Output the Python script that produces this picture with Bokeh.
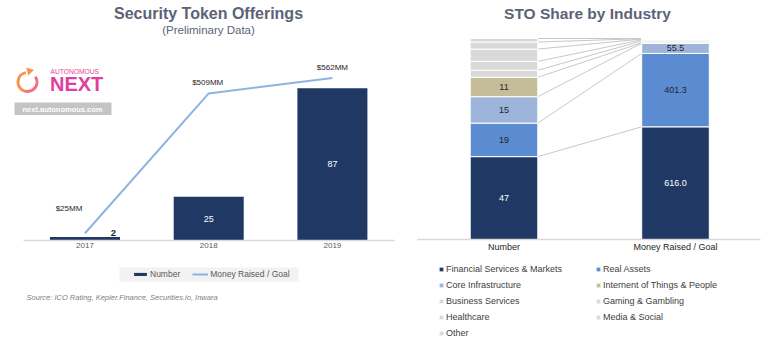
import numpy as np
from bokeh.plotting import figure
from bokeh.models import (Range1d, FixedTicker, ColumnDataSource, Label, LabelSet,
                          Legend, LegendItem, BoxAnnotation)
from bokeh.layouts import row
from bokeh.embed import file_html
from bokeh.resources import INLINE
from bokeh.core.properties import value

# ---------------- data: left chart ----------------
years = ["2017", "2018", "2019"]
sto_count = [2, 25, 87]
money_raised = [25, 509, 562]
money_labels = ["$25MM", "$509MM", "$562MM"]

# ---------------- data: right chart ----------------
share_cats = ["Number", "Money Raised / Goal"]
industries = ["Financial Services & Markets", "Real Assets", "Core Infrastructure",
              "Internent of Things & People", "Business Services", "Gaming & Gambling",
              "Healthcare", "Media & Social", "Other"]
number_by_ind = [47, 19, 15, 11, 4, 5, 7, 4, 2]
money_by_ind = [616.0, 401.3, 55.5, 3.0, 10.0, 6.0, 4.0, 2.0, 1.0]

# ---------------- style ----------------
FONT = "Liberation Sans"
TITLE_C = "#5b6376"
NAVY = "#203864"
LINE_C = "#8db3e2"
IND_COLORS = ["#203864", "#5b8bd0", "#9db4db", "#c5bd98",
              "#d9d9d9", "#d9d9d9", "#d9d9d9", "#d9d9d9", "#d9d9d9"]
IND_TEXT = ["white", "#262626", "#262626", "#262626", "#262626",
            "#262626", "#262626", "#262626", "#262626"]
money_dx = [-16, -1, 0]
money_dy = [25, 11, 11]

W_L, W_R, H = 405, 363, 341

# left chart pixel geometry
L_BASE = 240.0
L_C0, L_STEP = 84.5, 123.7
L_PX1, L_PX2 = 1.75, 0.289
def lx(X): return (X - L_C0) / L_STEP
def ly(Y): return (L_BASE - Y) / L_PX1

# right chart pixel geometry (canvas x measured across whole page)
R_BASE, R_TOP = 239.0, 38.0
R_C0, R_STEP = 503.5, 171.5
def rx(X): return (X - R_C0) / R_STEP
def ry(Y): return (R_BASE - Y) / (R_BASE - R_TOP)

def style_axis(ax, ticks, labels, bounds, size, color):
    ax.ticker = FixedTicker(ticks=ticks, minor_ticks=[])
    ax.major_label_overrides = {i: t for i, t in zip(ticks, labels)}
    ax.bounds = bounds
    ax.fixed_location = 0
    ax.axis_line_color = "#d9d9d9"
    ax.axis_line_width = 1.5
    ax.major_tick_line_color = None
    ax.minor_tick_line_color = None
    ax.major_tick_out = 0
    ax.major_tick_in = 0
    ax.major_label_standoff = 2
    ax.major_label_text_font = FONT
    ax.major_label_text_font_size = size
    ax.major_label_text_color = color

def add_label(p, x, y, text, size, color, style="normal", align="center"):
    p.add_layout(Label(x=x, y=y, text=text, text_font=FONT, text_font_size=size,
                       text_color=color, text_font_style=style, text_align=align,
                       text_baseline="middle"))

# ================= LEFT FIGURE =================
p1 = figure(width=W_L, height=H, output_backend="svg", toolbar_location=None,
            x_range=Range1d(lx(0), lx(W_L)), y_range=Range1d(ly(H), ly(0)),
            y_axis_location=None, min_border_left=0, min_border_right=0,
            min_border_top=0, min_border_bottom=0,
            outline_line_color=None, background_fill_color="white",
            border_fill_color="white")
p1.extra_y_ranges = {"money": Range1d((L_BASE - H) / L_PX2, L_BASE / L_PX2)}
p1.grid.visible = False

xs = list(range(len(years)))
src1 = ColumnDataSource(dict(
    x=xs, count=sto_count, money=money_raised, mlab=money_labels,
    dx=money_dx, dy=money_dy))
bars = p1.vbar(x="x", top="count", width=0.566, source=src1,
               fill_color=NAVY, line_color=None)
line = p1.line(x="x", y="money", source=src1, y_range_name="money",
               line_color=LINE_C, line_width=2)

ins = [i for i, c in enumerate(sto_count) if c >= 10]
outs = [i for i, c in enumerate(sto_count) if c < 10]
src_in = ColumnDataSource(dict(x=[xs[i] for i in ins], y=[sto_count[i] / 2 for i in ins],
                               t=[str(sto_count[i]) for i in ins]))
src_out = ColumnDataSource(dict(x=[xs[i] for i in outs], y=[sto_count[i] for i in outs],
                                t=[str(sto_count[i]) for i in outs]))
p1.add_layout(LabelSet(x="x", y="y", text="t", source=src_in, text_align="center",
                       text_baseline="middle", text_font=value(FONT), text_font_size="9px",
                       text_color="white"))
p1.add_layout(LabelSet(x="x", y="y", text="t", source=src_out, text_align="center",
                       text_baseline="middle", text_font=value(FONT), text_font_size="9.5px",
                       text_font_style="bold", text_color="#262626",
                       x_offset=28.5, y_offset=4.5))
p1.add_layout(LabelSet(x="x", y="money", text="mlab", source=src1, y_range_name="money",
                       x_offset="dx", y_offset="dy", text_align="center",
                       text_baseline="middle", text_font=value(FONT), text_font_size="8px",
                       text_color="#262626"))

style_axis(p1.xaxis[0], xs, years, (lx(23), lx(394)), "8px", "#595959")

add_label(p1, lx(208), ly(13), "Security Token Offerings", "16px", TITLE_C, "bold")
add_label(p1, lx(208), ly(29.5), "(Preliminary Data)", "11.5px", TITLE_C)

# logo
p1.arc(x=[lx(27)], y=[ly(81.5)], radius=9.5 / L_STEP, start_angle=np.radians(100),
       end_angle=np.radians(250), line_color="#f7924a", line_width=3)
p1.arc(x=[lx(27)], y=[ly(81.5)], radius=9.5 / L_STEP, start_angle=np.radians(250),
       end_angle=np.radians(395), line_color="#f2717c", line_width=3)
p1.scatter(x=[lx(29)], y=[ly(70.5)], marker="triangle", size=8, angle=np.radians(-75),
           fill_color="#f7924a", line_color=None)
add_label(p1, lx(50), ly(70.5), "AUTONOMOUS", "6.7px", "#e8459b", align="left")
add_label(p1, lx(49.5), ly(83), "NEXT", "20px", "#e03ea0", "bold", align="left")
p1.add_layout(BoxAnnotation(left=lx(14), right=lx(111), top=ly(102), bottom=ly(114.5),
                            fill_color="#c4c4c4", fill_alpha=1, line_color=None))
add_label(p1, lx(62), ly(108.5), "next.autonomous.com", "7.5px", "white", "bold")

# legend box + legend
p1.add_layout(BoxAnnotation(left=lx(119), right=lx(298), top=ly(267), bottom=ly(281),
                            fill_color="#f2f2f2", fill_alpha=1, line_color=None))
leg1 = Legend(items=[LegendItem(label="Number", renderers=[bars]),
                     LegendItem(label="Money Raised / Goal", renderers=[line])],
              location=(132, int(H - 280)), orientation="horizontal",
              glyph_width=16, glyph_height=4, label_standoff=2, spacing=12,
              padding=0, margin=0, border_line_color=None, background_fill_alpha=0,
              label_text_font=FONT, label_text_font_size="8.5px", label_height=12,
              label_text_color="#595959")
p1.add_layout(leg1, "center")

add_label(p1, lx(26), ly(297), "Source: ICO Rating, Kepler.Finance, Securities.io, Inwara",
          "7.5px", "#808080", "italic", align="left")

# ================= RIGHT FIGURE =================
p2 = figure(width=W_R, height=H, output_backend="svg", toolbar_location=None,
            x_range=Range1d(rx(W_L), rx(W_L + W_R)), y_range=Range1d(ry(H), ry(0)),
            y_axis_location=None, min_border_left=0, min_border_right=0,
            min_border_top=0, min_border_bottom=0,
            outline_line_color=None, background_fill_color="white",
            border_fill_color="white")
p2.grid.visible = False

cx = list(range(len(share_cats)))
BW = 0.394
tot_n = float(sum(number_by_ind))
tot_m = float(sum(money_by_ind))
cum_n = np.cumsum(number_by_ind) / tot_n
cum_m = np.cumsum(money_by_ind) / tot_m
bot_n = np.concatenate([[0], cum_n[:-1]])
bot_m = np.concatenate([[0], cum_m[:-1]])

# connector lines
p2.segment(x0=[cx[0] + BW / 2] * len(industries), y0=list(cum_n),
           x1=[cx[1] - BW / 2] * len(industries), y1=list(cum_m),
           line_color="#c8c8c8", line_width=1)

rends = []
for i, ind in enumerate(industries):
    s = ColumnDataSource(dict(x=cx, bottom=[bot_n[i], bot_m[i]], top=[cum_n[i], cum_m[i]]))
    r = p2.vbar(x="x", bottom="bottom", top="top", width=BW, source=s,
                fill_color=IND_COLORS[i], line_color="white", line_width=1)
    rends.append(r)

lab_x, lab_y, lab_t, lab_c = [], [], [], []
for i in range(len(industries)):
    if number_by_ind[i] / tot_n > 0.08:
        lab_x.append(cx[0]); lab_y.append((bot_n[i] + cum_n[i]) / 2)
        lab_t.append(f"{number_by_ind[i]:.0f}"); lab_c.append(IND_TEXT[i])
    if money_by_ind[i] / tot_m > 0.03:
        lab_x.append(cx[1]); lab_y.append((bot_m[i] + cum_m[i]) / 2)
        lab_t.append(f"{money_by_ind[i]:.1f}"); lab_c.append(IND_TEXT[i])
p2.add_layout(LabelSet(x="x", y="y", text="t", text_color="c",
                       source=ColumnDataSource(dict(x=lab_x, y=lab_y, t=lab_t, c=lab_c)),
                       text_align="center", text_baseline="middle", text_font=value(FONT),
                       text_font_size="9px"))

style_axis(p2.xaxis[0], cx, share_cats, (rx(417), rx(759.5)), "9px", "#262626")

add_label(p2, rx(587), ry(13), "STO Share by Industry", "15.5px", TITLE_C, "bold")

col1 = [0, 2, 4, 6, 8]
col2 = [1, 3, 5, 7]
for cols, xpos in ((col1, 438 - W_L), (col2, 595 - W_L)):
    lg = Legend(items=[LegendItem(label=industries[i], renderers=[rends[i]]) for i in cols],
                location=(xpos, int(H - (261 + 16 * len(cols)))),
                orientation="vertical", glyph_width=6, glyph_height=6,
                label_standoff=2, spacing=0, padding=0, margin=0,
                border_line_color=None, background_fill_alpha=0,
                label_text_font=FONT, label_text_font_size="9px", label_height=16,
                label_text_color="#404040")
    p2.add_layout(lg, "center")

layout = row(p1, p2)
open("out.html", "w").write(file_html(layout, INLINE))
